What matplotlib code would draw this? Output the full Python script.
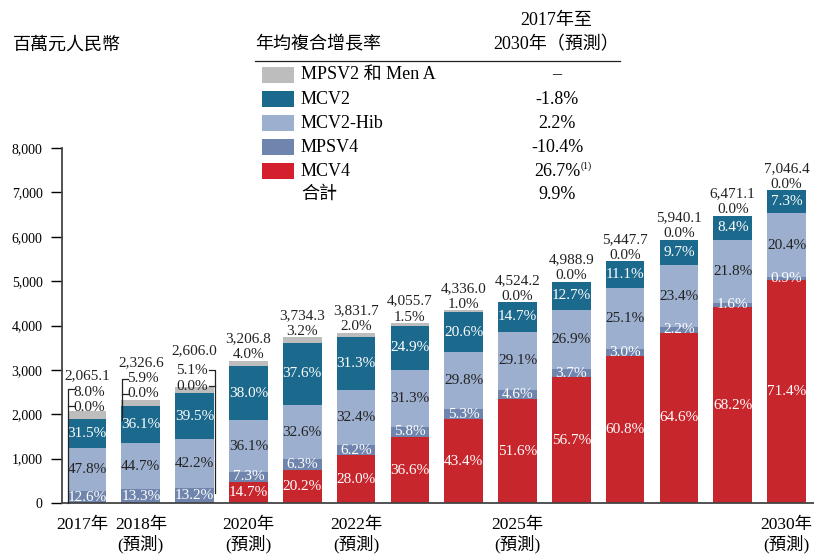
import numpy as np
import matplotlib
matplotlib.use("Agg")
import matplotlib.pyplot as plt
from matplotlib.patches import Rectangle

plt.rcParams['font.family'] = ['Liberation Serif', 'Noto Sans CJK TC']

years = ['2017', '2018', '2019', '2020', '2021', '2022', '2023',
         '2024', '2025', '2026', '2027', '2028', '2029', '2030']
totals = [2065.1, 2326.6, 2606.0, 3206.8, 3734.3, 3831.7, 4055.7,
          4336.0, 4524.2, 4988.9, 5447.7, 5940.1, 6471.1, 7046.4]
# shares in % (bottom to top)
mcv4 = [0.0, 0.0, 0.0, 14.7, 20.2, 28.0, 36.6, 43.4, 51.6, 56.7, 60.8, 64.6, 68.2, 71.4]
mpsv4 = [12.6, 13.3, 13.2, 7.3, 6.3, 6.2, 5.8, 5.3, 4.6, 3.7, 3.0, 2.2, 1.6, 0.9]
hib = [47.8, 44.7, 42.2, 36.1, 32.6, 32.4, 31.3, 29.8, 29.1, 26.9, 25.1, 23.4, 21.8, 20.4]
mcv2 = [31.5, 36.1, 39.5, 38.0, 37.6, 31.3, 24.9, 20.6, 14.7, 12.7, 11.1, 9.7, 8.4, 7.3]
mpsv2 = [8.0, 5.9, 5.1, 4.0, 3.2, 2.0, 1.5, 1.0, 0.0, 0.0, 0.0, 0.0, 0.0, 0.0]

legend_names = ['MPSV2 和 Men A', 'MCV2', 'MCV2-Hib', 'MPSV4', 'MCV4']
cagr = ['–', '-1.8%', '2.2%', '-10.4%', '26.7%']
cagr_total = '9.9%'
xlabel_years = {-0.08: '2017年', 1: '2018年\n(預測)', 3: '2020年\n(預測)',
                5: '2022年\n(預測)', 8: '2025年\n(預測)', 13: '2030年\n(預測)'}

c_gray = '#bdbdbd'
c_mcv2 = '#1b698c'
c_hib = '#9dafcf'
c_mpsv4 = '#6f85ad'
c_mcv4 = '#c8262d'
c_text = '#222222'
fs_bar = 11

W, H = 814, 558
fig = plt.figure(figsize=(W / 100, H / 100), dpi=100)


def fx(px):
    return px / W


def fy(py):
    return 1 - py / H


ax = fig.add_axes([fx(62), fy(503), fx(814 - 62), (503 - 148) / H])

x = np.arange(len(years))
tot = np.array(totals)
layers = [(mcv4, c_mcv4, 'white'), (mpsv4, c_mpsv4, 'white'),
          (hib, c_hib, c_text), (mcv2, c_mcv2, 'white'), (mpsv2, c_gray, c_text)]
bottom = np.zeros(len(years))
for k, (pct, col, tcol) in enumerate(layers):
    vals = tot * np.array(pct) / 100
    ax.bar(x, vals, 0.72, bottom=bottom, color=col, linewidth=0, zorder=2)
    for i in range(len(years)):
        if k == 0 and pct[i] == 0:
            continue
        if k == 4:
            continue
        ax.text(x[i], bottom[i] + vals[i] / 2, f'{pct[i]:.1f}%', ha='center', va='center',
                color=tcol, fontsize=fs_bar, zorder=4)
    bottom = bottom + vals

# labels above bars
for i in range(3, len(years)):
    ax.annotate(f'{mpsv2[i]:.1f}%', (x[i], tot[i]), xytext=(0, 6), textcoords='offset pixels',
                ha='center', va='center', fontsize=fs_bar, color=c_text)
    ax.annotate(f'{totals[i]:,.1f}', (x[i], tot[i]), xytext=(0, 22), textcoords='offset pixels',
                ha='center', va='center', fontsize=fs_bar, color=c_text)

# first three bars: bracket labels (side, 0.0% offset, share offset, total offset)
hw = 0.36
br = [(-1, 4, 19, 36), (-1, 6, 21, 37), (1, 1, 17, 37)]
for i, (side, lo, hi, top) in enumerate(br):
    ex = x[i] + side * hw
    y_top = tot[i]
    ax.annotate(f'{totals[i]:,.1f}', (x[i], y_top), xytext=(0, top), textcoords='offset pixels',
                ha='center', va='center', fontsize=fs_bar, color=c_text)
    ha = 'left' if side < 0 else 'right'
    sx = 6 if side < 0 else -6
    ax.annotate(f'{mpsv2[i]:.1f}%', (ex, y_top), xytext=(sx, hi), textcoords='offset pixels',
                ha=ha, va='center', fontsize=fs_bar, color=c_text)
    ax.annotate('0.0%', (ex, y_top), xytext=(sx, lo), textcoords='offset pixels',
                ha=ha, va='center', fontsize=fs_bar, color=c_text)


def dline(xs, ys):
    fig.add_artist(plt.Line2D([fx(v) for v in xs], [fy(v) for v in ys],
                              transform=fig.transFigure, color=c_text, lw=0.9))


# bracket lines
dline([74, 68, 68], [389, 389, 503])
dline([74, 68], [406, 406])
dline([128, 122, 122], [379, 379, 420])
dline([128, 122], [394, 394])
dline([209, 215, 215], [370, 370, 493])
dline([209, 215], [386, 386])

ax.set_xlim(-0.465, 13.51)
ax.set_ylim(0, 8000)
ax.set_yticks(range(0, 8001, 1000))
ax.set_yticklabels([f'{v:,}' for v in range(0, 8001, 1000)], fontsize=10)
ax.set_xticks(list(xlabel_years.keys()))
ax.set_xticklabels(list(xlabel_years.values()), fontsize=12.5, linespacing=1.15)
ax.tick_params(axis='x', length=0, pad=10)
ax.tick_params(axis='y', length=8, width=1, pad=6, direction='out')
for s in ['top', 'right']:
    ax.spines[s].set_visible(False)
for s in ['left', 'bottom']:
    ax.spines[s].set_color('#444444')
    ax.spines[s].set_linewidth(1.3)

# titles and legend table
fig.text(fx(13), fy(45), '百萬元人民幣', fontsize=13, va='center', ha='left')
fig.text(fx(255), fy(45), '年均複合增長率', fontsize=13, va='center', ha='left')
fig.text(fx(556), fy(20), '2017年至', fontsize=13, va='center', ha='center')
fig.text(fx(556), fy(45), '2030年（預測）', fontsize=13, va='center', ha='center')
dline([255, 620], [61, 61])

row_y = [75, 99, 123, 147, 171]
for name, val, col, yy in zip(legend_names, cagr, [c_gray, c_mcv2, c_hib, c_mpsv4, '#d4202e'], row_y):
    fig.add_artist(Rectangle((fx(262), fy(yy + 8)), fx(32), 16 / H, transform=fig.transFigure,
                             color=col, lw=0))
    fig.text(fx(301), fy(yy), name, fontsize=13, va='center', ha='left')
    fig.text(fx(557), fy(yy), val, fontsize=13, va='center', ha='center')
fig.text(fx(581), fy(166), '(1)', fontsize=7, va='center', ha='left')
fig.text(fx(301), fy(194), '合計', fontsize=13, va='center', ha='left')
fig.text(fx(557), fy(194), cagr_total, fontsize=13, va='center', ha='center')

fig.savefig('out.png', dpi=100)
